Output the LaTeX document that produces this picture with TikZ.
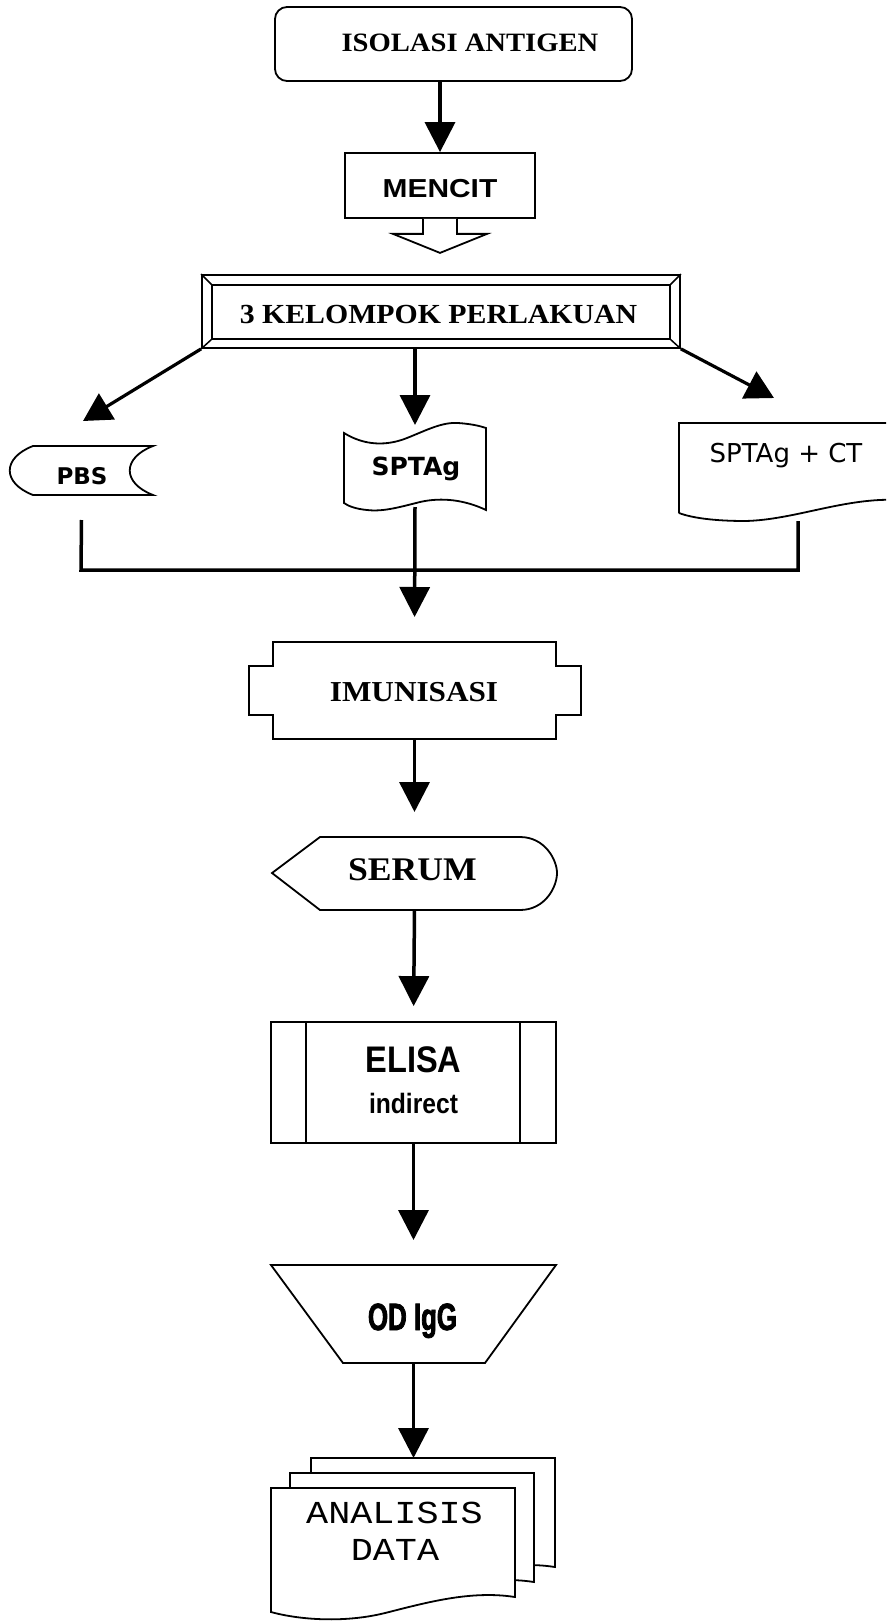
\documentclass[tikz,border=0pt]{standalone}
\usepackage{fontspec}
\setmainfont{Liberation Serif}
\newfontfamily\titlefont[FakeStretch=1.08]{Liberation Serif}
\newfontfamily\dvs{DejaVu Sans}
\newfontfamily\mcf[FakeStretch=1.15]{Liberation Sans}
\newfontfamily\elf[FakeStretch=0.88]{Liberation Sans}
\newfontfamily\odf[FakeStretch=0.68,FakeBold=2]{Liberation Sans}
\newfontfamily\mnf[FakeStretch=1.15]{Liberation Mono}
\usetikzlibrary{arrows.meta,calc}
\newcommand{\fs}[1]{\fontsize{#1}{#1}\selectfont}
\newcommand{\docpath}{(271,1612) -- (271,1488) -- (515,1488) -- (515,1597) .. controls (470,1590) and (425,1603) .. (385,1613) .. controls (345,1623) and (300,1620) .. (271,1612) -- cycle}
\begin{document}
\begin{tikzpicture}[x=1pt,y=-1pt,
  outl/.style={draw=black,line width=1.8pt,line join=miter},
  flowarr/.style={line width=3.5pt,-{Triangle[width=30pt,length=30pt]}},
  slantarr/.style={line width=3.2pt,-{Triangle[width=30pt,length=28pt]}},
  joinline/.style={line width=3.5pt,line join=miter},
  hold/.style={inner sep=0pt,outer sep=0pt,draw=none},
  txt/.style={inner sep=0pt,outer sep=0pt,text=black}]
\useasboundingbox (0,0) rectangle (886,1621);
\fill[white] (0,0) rectangle (886,1621);
\clip (0,0) rectangle (886,1621);

% ISOLASI ANTIGEN
\node[outl,rounded corners=12pt,minimum width=357pt,minimum height=74pt,inner sep=0pt] (iso) at (453.5,44) {};
\node[txt] (isot) at (470,42.5) {\titlefont\bfseries\fs{26.5}ISOLASI ANTIGEN};

% MENCIT
\node[outl,minimum width=190pt,minimum height=65pt,inner sep=0pt] (mencit) at (440,185.5) {};
\node[txt] (mencitt) at (440,189) {\mcf\bfseries\fs{26}MENCIT};
\draw[flowarr] (iso.south -| mencit.north) -- (mencit.north);
% block arrow
\draw[outl,fill=white] ([xshift=-17pt]mencit.south) -- ++(0,15) -- ++(-30,0) -- ++(47,19) -- ++(47,-19) -- ++(-30,0) -- ++(0,-15);

% 3 KELOMPOK PERLAKUAN
\node[outl,minimum width=478pt,minimum height=73pt,inner sep=0pt] (kel) at (441,311.5) {};
\draw[outl] (212,285) rectangle (670,339);
\draw[line width=1.5pt] (kel.north west) -- (212,285) (kel.north east) -- (670,285)
  (kel.south west) -- (212,339) (kel.south east) -- (670,339);
\node[txt] (kelt) at (438.5,314) {\titlefont\bfseries\fs{27.6}3 KELOMPOK PERLAKUAN};

% PBS (stored data)
\draw[outl] (33,446) -- (153,446) .. controls (122,458) and (122,483) .. (153,495) -- (33,495)
  .. controls (2,483) and (2,458) .. (33,446) -- cycle;
\node[hold,minimum width=143pt,minimum height=49pt] (pbs) at (81.5,470.5) {};
\node[txt] (pbst) at (82,476) {\dvs\bfseries\fs{23}PBS};

% SPTAg (punched tape)
\draw[outl] (344,433) .. controls (365,446) and (387,446) .. (407,438)
  .. controls (427,430) and (442,422) .. (458,423) .. controls (472,424) and (480,426) .. (486,428)
  -- (486,510) .. controls (465,500) and (442,497) .. (420,502)
  .. controls (400,507) and (383,512) .. (367,510) .. controls (356,509) and (348,506) .. (344,503) -- cycle;
\node[hold,minimum width=142pt,minimum height=82pt] (sptag) at (415,466) {};
\node[txt,anchor=base] (sptagt) at (416,475) {\dvs\bfseries\fs{25}SPTAg};

% SPTAg + CT (document)
\draw[outl] (679,513) -- (679,423) -- (900,423) -- (900,500)
  .. controls (845,497) and (795,520) .. (745,521) .. controls (715,521) and (692,518) .. (679,513);
\node[hold,minimum width=207pt,minimum height=90pt] (ct) at (782.5,468) {};
\node[txt,anchor=base] (ctt) at (786,462) {\dvs\fs{26}SPTAg + CT};

% arrows from 3 KELOMPOK
\coordinate (pbsin) at (83,421);
\coordinate (ctin) at (774,398);
\draw[slantarr] (kel.south west) -- (pbsin);
\draw[slantarr] (kel.south east) -- (ctin);
\draw[flowarr] (kel.south -| sptag.north) -- (sptag.north);

% joining lines
\coordinate (jl) at (81,570);
\coordinate (jr) at (798,570);
\draw[joinline] ([yshift=-25pt]pbs.south) -- (jl) -- (jr) -- ([yshift=-8pt]ct.south -| jr);

% IMUNISASI
\draw[outl] (273,642) -- (556,642) -- (556,666) -- (581,666) -- (581,715) -- (556,715) -- (556,739)
  -- (273,739) -- (273,715) -- (249,715) -- (249,666) -- (273,666) -- cycle;
\node[hold,minimum width=283pt,minimum height=97pt] (imun) at (414.5,690.5) {};
\node[txt] (imunt) at (414,692.5) {\titlefont\bfseries\fs{28.9}IMUNISASI};
\draw[flowarr,shorten >=25pt] (sptag.south) -- (imun.north);

% SERUM (display)
\draw[outl] (272,873) -- (320,837) -- (520,837) .. controls (545,837) and (557,860) .. (557,873)
  .. controls (557,887) and (545,910) .. (520,910) -- (320,910) -- cycle;
\node[hold,minimum width=285pt,minimum height=73pt] (serum) at (414.5,873.5) {};
\node[txt] (serumt) at (412.5,870) {\titlefont\bfseries\fs{33}SERUM};
\draw[flowarr,shorten >=25pt] (imun.south) -- (serum.north);

% ELISA indirect (predefined process)
\node[outl,minimum width=285pt,minimum height=121pt,inner sep=0pt] (elisa) at (413.5,1082.5) {};
\draw[line width=1.8pt] (306,1022) -- (306,1143) (520,1022) -- (520,1143);
\node[txt] (elisat) at (413.5,1060) {\elf\bfseries\fs{37}ELISA};
\node[txt] (elisai) at (413.5,1103) {\elf\bfseries\fs{28}indirect};
\draw[flowarr,shorten >=15pt] (serum.south) -- (elisa.north);

% OD IgG (manual operation)
\draw[outl] (271,1265) -- (556,1265) -- (485,1363) -- (343,1363) -- cycle;
\node[hold,minimum width=285pt,minimum height=98pt] (od) at (413.5,1314) {};
\node[txt,anchor=base] (odt) at (412.5,1330) {\odf\bfseries\fs{38}OD IgG};
\draw[flowarr,shorten >=25pt] (elisa.south) -- (od.north);

% ANALISIS DATA (multi-document)
\begin{scope}[shift={(40,-30)}]
  \draw[outl,fill=white] \docpath;
\end{scope}
\begin{scope}[shift={(19,-15)}]
  \draw[outl,fill=white] \docpath;
\end{scope}
\draw[outl,fill=white] \docpath;
\node[hold,minimum width=246pt,minimum height=109pt] (analback) at (433,1512.5) {};
\node[txt,anchor=base] (analt) at (394.5,1523) {\mnf\fs{32}ANALISIS};
\node[txt,anchor=base] (analt2) at (395,1560) {\mnf\fs{32}DATA};
\draw[flowarr] (od.south) -- (od.south |- analback.north);
\end{tikzpicture}
\end{document}
